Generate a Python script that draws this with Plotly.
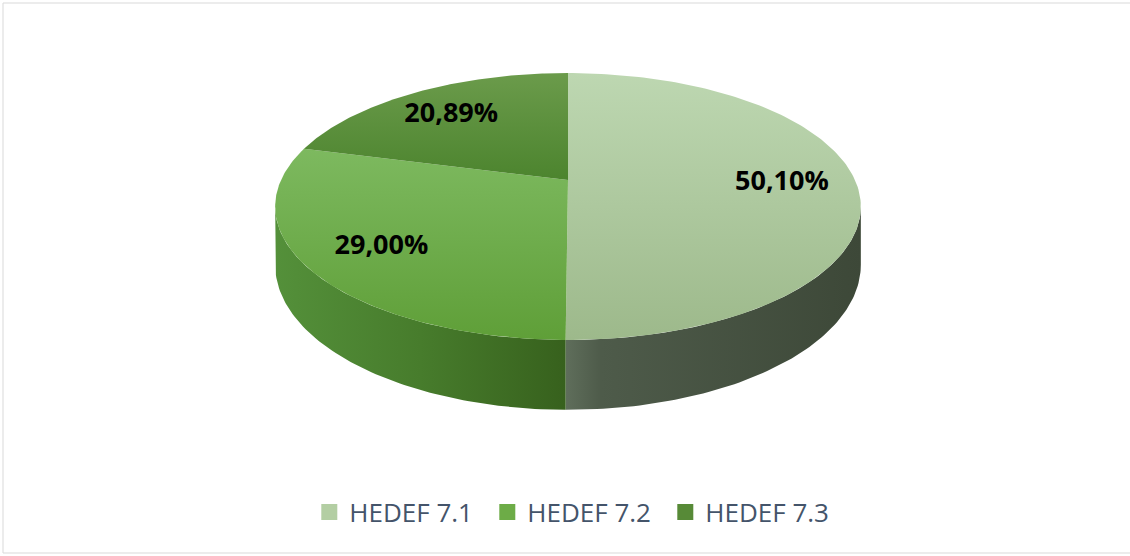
import numpy as np
import plotly.graph_objects as go

labels = ["HEDEF 7.1", "HEDEF 7.2", "HEDEF 7.3"]
values = [50.10, 29.00, 20.89]

top_scales = [
    [[0, "#bdd7b1"], [1, "#9db98b"]],
    [[0, "#7db95f"], [1, "#5f9f38"]],
    [[0, "#6b9b4b"], [1, "#4c842e"]],
]
side_scales = [
    [[0, "#5f6e5b"], [0.12, "#4e5b4a"], [1, "#3d4838"]],
    [[0, "#54903a"], [0.5, "#477c2c"], [1, "#37611d"]],
    [[0, "#3f6e25"], [1, "#335a1c"]],
]
legend_colors = ["#b3cea3", "#6dac47", "#578a37"]

# projection of the tilted pie (screen pixels)
CX, CY, A, B, K, D0 = 568.0, 180.0, 287.0, 128.2, 0.1985, 56.0


def proj(theta_deg, r=1.0, drop=0.0):
    th = np.radians(theta_deg)
    u = r * np.sin(th)
    v = r * np.cos(th)
    den = 1 + K * v
    return CX + A * u / den, CY - B * v / den + drop / den


fig = go.Figure()
total = sum(values)
bounds = np.concatenate([[0], np.cumsum(values) / total * 360])

th_r = np.degrees(np.arccos(-K))
th_l = 360 - th_r

# sides
for i in range(len(values)):
    a0, a1 = max(bounds[i], th_r), min(bounds[i + 1], th_l)
    if a1 <= a0:
        continue
    t = np.linspace(a0, a1, 80)
    xt, yt = proj(t)
    xb, yb = proj(t[::-1], drop=D0)
    xs = np.concatenate([xt, xb, xt[:1]])
    ys = np.concatenate([yt, yb, yt[:1]])
    fig.add_trace(go.Scatter(
        x=xs, y=ys, mode="lines", fill="toself", line=dict(width=0),
        fillgradient=dict(type="horizontal", colorscale=side_scales[i],
                          start=float(xs.min()), stop=float(xs.max())),
        hoverinfo="skip", showlegend=False))

# tops
for i in range(len(values)):
    t = np.linspace(bounds[i], bounds[i + 1], 160)
    xt, yt = proj(t)
    xs = np.concatenate([[CX], xt, [CX]])
    ys = np.concatenate([[CY], yt, [CY]])
    fig.add_trace(go.Scatter(
        x=xs, y=ys, mode="lines", fill="toself", line=dict(width=0),
        fillgradient=dict(type="vertical", colorscale=top_scales[i],
                          start=float(ys.min()), stop=float(ys.max())),
        hoverinfo="skip", showlegend=False))

# labels
lx, ly, lt = [], [], []
for i, v in enumerate(values):
    mid = (bounds[i] + bounds[i + 1]) / 2
    x, y = proj(mid, r=0.745)
    lx.append(x); ly.append(y + 3)
    lt.append(f"{v:.2f}".replace(".", ",") + "%")
fig.add_trace(go.Scatter(
    x=lx, y=ly, mode="text", text=lt,
    textfont=dict(family="Open Sans", size=27, color="#000000", weight="bold"),
    hoverinfo="skip", showlegend=False))

# legend entries
for lab, col in zip(labels, legend_colors):
    fig.add_trace(go.Scatter(
        x=[None], y=[None], mode="markers", name=lab,
        marker=dict(symbol="square", size=16, color=col)))

fig.update_layout(
    width=1130, height=556,
    margin=dict(l=0, r=0, t=0, b=0),
    paper_bgcolor="white", plot_bgcolor="white",
    xaxis=dict(range=[0, 1130], visible=False, fixedrange=True),
    yaxis=dict(range=[556, 0], visible=False, fixedrange=True),
    legend=dict(orientation="h", x=0.51, xanchor="center", y=1 - 512 / 556,
                yanchor="middle", font=dict(family="Open Sans", size=26, color="#44546a"),
                itemwidth=30, entrywidth=133, entrywidthmode="pixels",
                bgcolor="rgba(0,0,0,0)"),
    shapes=[dict(type="rect", xref="paper", yref="paper", x0=3 / 1130, y0=1 - 553 / 556,
                 x1=1.01, y1=1 - 3 / 556, line=dict(color="#d9d9d9", width=1))],
)

fig.write_html("out.html", config={"displayModeBar": False},
               post_script="document.body.style.margin='0';")
